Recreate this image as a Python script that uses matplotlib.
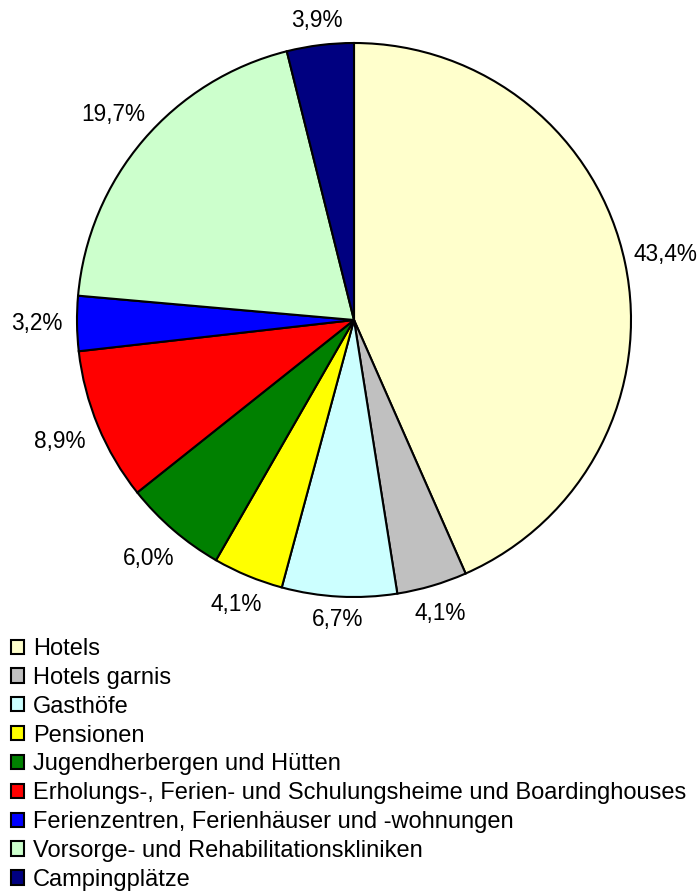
import numpy as np
import matplotlib
matplotlib.use("Agg")
from matplotlib import pyplot as plt

categories = ["Hotels", "Hotels garnis", "Gasthöfe", "Pensionen",
              "Jugendherbergen und Hütten",
              "Erholungs-, Ferien- und Schulungsheime und Boardinghouses",
              "Ferienzentren, Ferienhäuser und -wohnungen",
              "Vorsorge- und Rehabilitationskliniken", "Campingplätze"]
shares = [43.4, 4.1, 6.7, 4.1, 6.0, 8.9, 3.2, 19.7, 3.9]
labels = ["43,4%", "4,1%", "6,7%", "4,1%", "6,0%", "8,9%", "3,2%", "19,7%", "3,9%"]
colors = ["#ffffcc", "#c0c0c0", "#ccffff", "#ffff00", "#008000",
          "#ff0000", "#0000ff", "#ccffcc", "#000080"]

plt.rcParams['font.family'] = ['Liberation Sans', 'DejaVu Sans']

fig = plt.figure(figsize=(6.97, 8.93), dpi=100)
ax = fig.add_axes([77 / 697, 1 - 597 / 893, 554 / 697, 554 / 893])

wedges, _ = ax.pie(shares, colors=colors, startangle=90, counterclock=False,
                   radius=1.0, wedgeprops=dict(edgecolor="black", linewidth=1.5))
ax.set_xlim(-1, 1)
ax.set_ylim(-1, 1)
ax.set_aspect("equal")
ax.axis("off")

# labels just outside the rim, pushed out by half the text box
for w, lab in zip(wedges, labels):
    th = np.deg2rad((w.theta1 + w.theta2) / 2)
    c, s = np.cos(th), np.sin(th)
    d = 1.04 + 0.105 * abs(c) + 0.036 * abs(s)
    ax.text(d * c, d * s, lab, ha="center", va="center", fontsize=16.3,
            clip_on=False)

fig.legend(wedges, categories, loc="upper left",
           bbox_to_anchor=(11 / 697, 1 - 638 / 893), frameon=False,
           fontsize=17, handlelength=0.55, handleheight=0.55,
           handletextpad=0.38, labelspacing=0.29, borderpad=0,
           borderaxespad=0)

fig.savefig("out.png", dpi=100)
